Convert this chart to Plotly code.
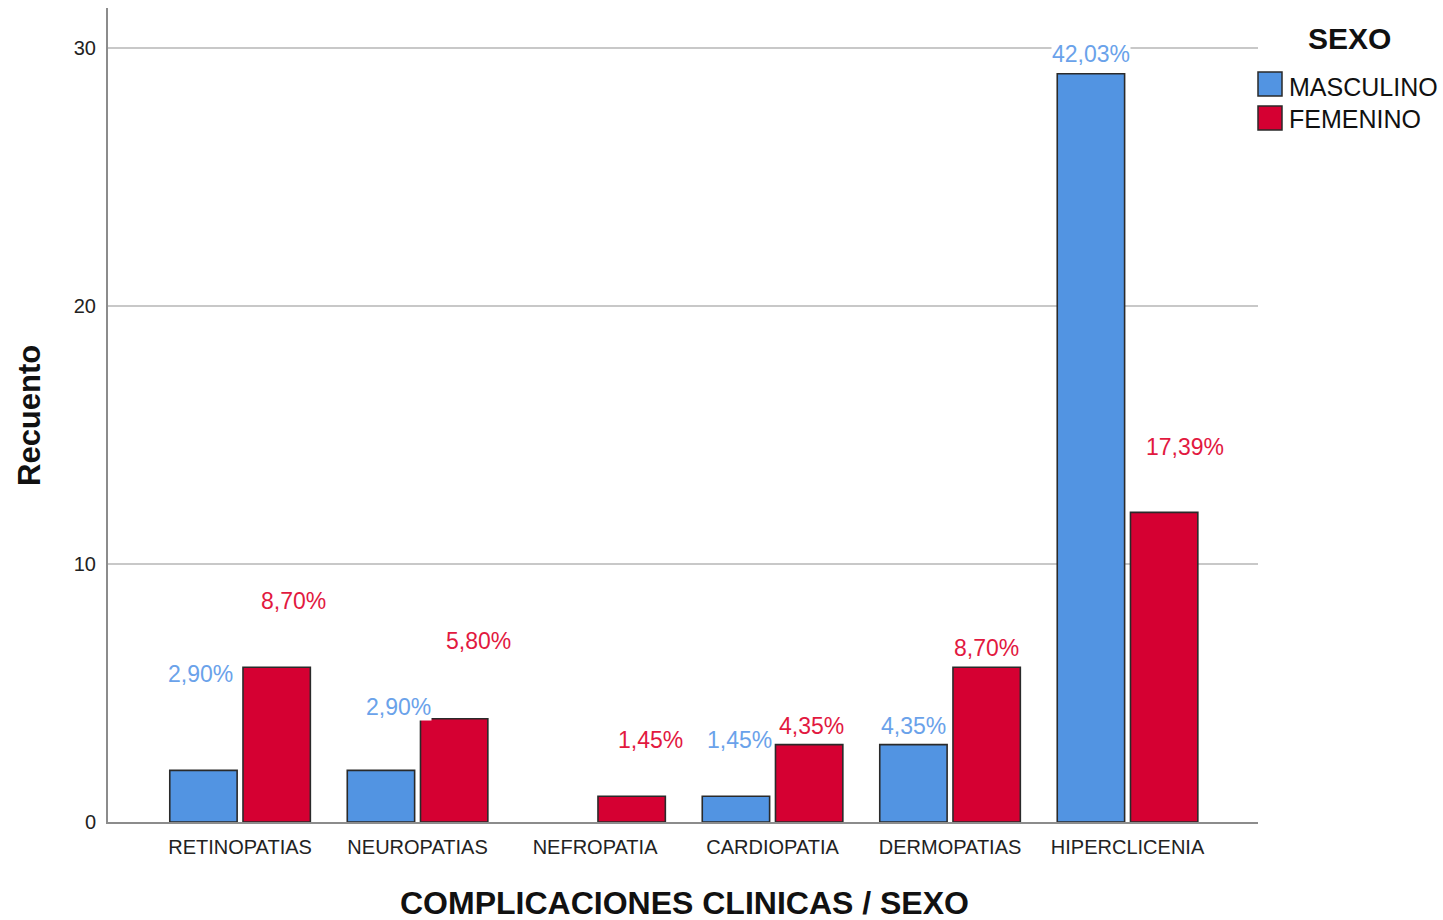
import plotly.graph_objects as go

# ---------------- data ----------------
categories = ["RETINOPATIAS", "NEUROPATIAS", "NEFROPATIA", "CARDIOPATIA", "DERMOPATIAS", "HIPERCLICENIA"]
masculino = [2, 2, 0, 1, 3, 29]
femenino = [6, 4, 1, 3, 6, 12]
masculino_pct = ["2,90%", "2,90%", "", "1,45%", "4,35%", "42,03%"]
femenino_pct = ["8,70%", "5,80%", "1,45%", "4,35%", "8,70%", "17,39%"]
y_ticks = [0, 10, 20, 30]

# ---------------- style ----------------
FONT = "Liberation Sans, Arial, sans-serif"
BLUE = "#5294E2"
RED = "#D50032"
BLUE_TXT = "#6AA2EA"
RED_TXT = "#E2193F"
AXIS_GRAY = "#8C8C8C"
GRID_GRAY = "#C8C8C8"
OUTLINE = "#2A2A2A"

# plot area in pixels (for placing paper-referenced items)
W, H = 1443, 920
L, R, T, B = 108, 1258, 8, 822


def px(xp):
    return (xp - L) / (R - L)


def py(yp):
    return (B - yp) / (B - T)


def outline_widths(vals):
    return [1.6 if v > 0 else 0 for v in vals]


fig = go.Figure()
fig.add_trace(go.Bar(name="MASCULINO", x=categories, y=masculino,
                     marker=dict(color=BLUE, line=dict(color=OUTLINE, width=outline_widths(masculino))),
                     showlegend=False, hoverinfo="x+y"))
fig.add_trace(go.Bar(name="FEMENINO", x=categories, y=femenino,
                     marker=dict(color=RED, line=dict(color=OUTLINE, width=outline_widths(femenino))),
                     showlegend=False, hoverinfo="x+y"))

# ---------------- value labels ----------------
bar_offset = 36.5  # px from category centre to each bar centre
m_dx = [-3, 17, 0, 3, 0, 0]
m_dy = [96, 63, 0, 56, 19, 20]
f_dx = [17, 24, 19, 2, 0, 21]
f_dy = [66, 78, 56, 19, 19, 65]

annotations = []
for i, c in enumerate(categories):
    if femenino_pct[i]:
        annotations.append(dict(x=c, y=femenino[i], xref="x", yref="y", text=femenino_pct[i],
                                showarrow=False, xanchor="center", yanchor="middle",
                                xshift=bar_offset + f_dx[i], yshift=f_dy[i],
                                font=dict(family=FONT, size=23, color=RED_TXT),
                                bgcolor="white", borderpad=0))
for i, c in enumerate(categories):
    if masculino_pct[i]:
        annotations.append(dict(x=c, y=masculino[i], xref="x", yref="y", text=masculino_pct[i],
                                showarrow=False, xanchor="center", yanchor="middle",
                                xshift=-bar_offset + m_dx[i], yshift=m_dy[i],
                                font=dict(family=FONT, size=23, color=BLUE_TXT),
                                bgcolor="white", borderpad=0))

# axis titles
annotations.append(dict(x=px(30), y=py(416), xref="paper", yref="paper", text="<b>Recuento</b>",
                        textangle=-90, showarrow=False, xanchor="center", yanchor="middle",
                        font=dict(family=FONT, size=31, color="#111111")))
annotations.append(dict(x=px(684), y=py(903), xref="paper", yref="paper",
                        text="<b>COMPLICACIONES CLINICAS / SEXO</b>",
                        showarrow=False, xanchor="center", yanchor="middle",
                        font=dict(family=FONT, size=32, color="#111111")))

# legend (drawn manually to match the large swatches)
annotations.append(dict(x=px(1349), y=py(38), xref="paper", yref="paper", text="<b>SEXO</b>",
                        showarrow=False, xanchor="center", yanchor="middle",
                        font=dict(family=FONT, size=30, color="#111111")))
legend_items = [("MASCULINO", BLUE, 72, 96, 87), ("FEMENINO", RED, 106, 130, 119)]
shapes = []
for name, col, y0, y1, yc in legend_items:
    shapes.append(dict(type="rect", xref="paper", yref="paper",
                       x0=px(1258), x1=px(1282), y0=py(y1), y1=py(y0),
                       fillcolor=col, line=dict(color=OUTLINE, width=1.5)))
    annotations.append(dict(x=px(1287), y=py(yc), xref="paper", yref="paper", text=name,
                            showarrow=False, xanchor="left", yanchor="middle",
                            font=dict(family=FONT, size=25, color="#111111")))

fig.update_layout(
    width=W, height=H,
    margin=dict(l=L, r=W - R, t=T, b=H - B, autoexpand=False),
    paper_bgcolor="white", plot_bgcolor="white",
    barmode="group", bargap=0.175, bargroupgap=0.08,
    font=dict(family=FONT, color="#222222"),
    annotations=annotations, shapes=shapes,
    showlegend=False,
)
fig.update_xaxes(
    type="category", range=[-0.744, 5.735],
    showline=True, linecolor=AXIS_GRAY, linewidth=2,
    showgrid=False, ticks="", ticklabelstandoff=6,
    tickfont=dict(family=FONT, size=20, color="#222222"),
    fixedrange=True,
)
fig.update_yaxes(
    range=[0, 31.55], tickvals=y_ticks,
    showline=True, linecolor=AXIS_GRAY, linewidth=2,
    showgrid=True, gridcolor=GRID_GRAY, gridwidth=2,
    zeroline=False, ticks="", ticklabelstandoff=6,
    tickfont=dict(family=FONT, size=20, color="#222222"),
    fixedrange=True,
)

fig.write_html(
    "out.html",
    config={"displayModeBar": False},
    post_script="document.body.style.margin='0';document.body.style.overflow='hidden';",
)
